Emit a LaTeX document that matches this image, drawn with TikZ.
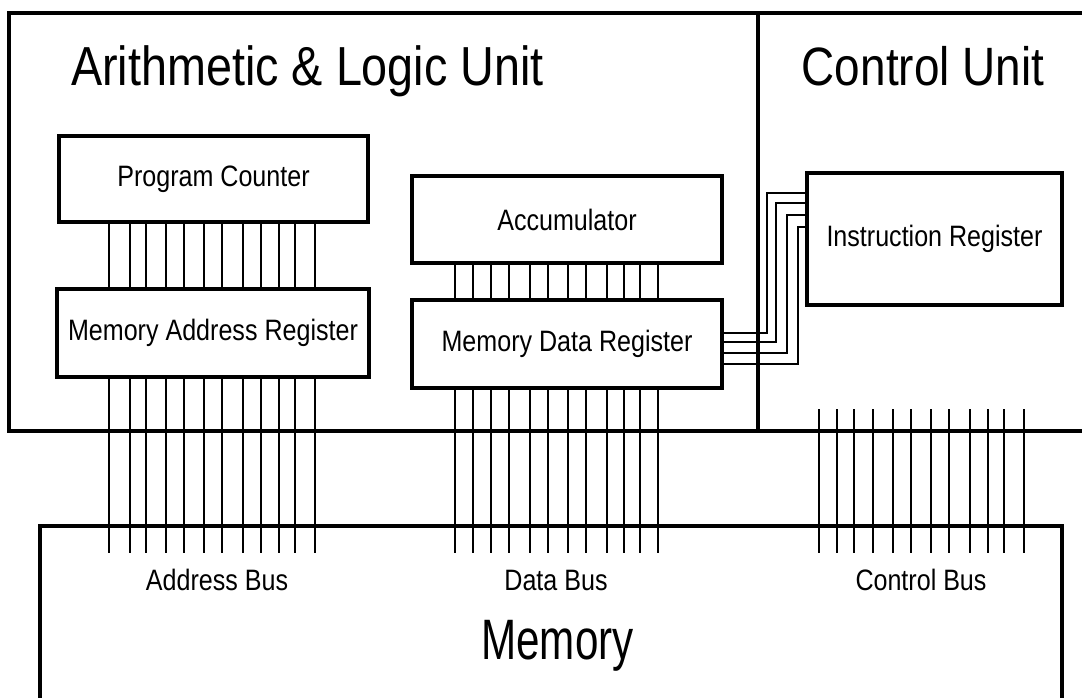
\documentclass[tikz,border=0pt]{standalone}
\usepackage{fontspec}
\setmainfont[FakeStretch=0.85]{Liberation Sans}
\newfontfamily\narrowfont[FakeStretch=0.74]{Liberation Sans}
\begin{document}
\begin{tikzpicture}[x=1pt,y=-1pt,
  frame/.style={line width=4pt},
  reg/.style={draw,line width=4pt,fill=white,inner sep=0pt,
    font=\fontsize{29.5}{35}\selectfont},
  bus/.style={line width=2pt},
  wire/.style={line width=2pt},
  big/.style={font=\fontsize{55}{66}\selectfont,anchor=base,inner sep=0pt},
  label/.style={font=\fontsize{29.5}{35}\selectfont,anchor=base,inner sep=0pt}]
\useasboundingbox (0,0) rectangle (1082,697);
\clip (0,0) rectangle (1082,697);

% CPU frame with the divider between ALU and control unit
\draw[frame] (1090,13) -- (9,13) -- (9,431) -- (1090,431);
\draw[frame] (758,13) -- (758,431);
% memory block
\draw[frame] (40,705) -- (40,526) -- (1062,526) -- (1062,705);

% registers
\node[reg,minimum width=309pt,minimum height=86pt] (pc)  at (213.5,179) {Program Counter};
\node[reg,minimum width=312pt,minimum height=88pt] (mar) at (213,333)   {Memory Address Register};
\node[reg,minimum width=310pt,minimum height=87pt] (acc) at (567,219.5) {Accumulator};
\node[reg,minimum width=310pt,minimum height=88pt] (mdr) at (567,344)   {Memory Data Register};
\node[reg,minimum width=255pt,minimum height=132pt] (ir) at (934.5,239) {Instruction Register};

% bus end points
\coordinate (busend) at (0,553);
\coordinate (ctltop) at (0,409);

% address bus
\foreach \x in {109,130,146,166,184,204,222,243,261,279,295,315} {
  \draw[bus] (\x,0 |- pc.south) -- (\x,0 |- mar.north);
  \draw[bus] (\x,0 |- mar.south) -- (\x,0 |- busend);
}
% data bus
\foreach \x in {455,473,491,509,530,548,568,586,607,624,640,658} {
  \draw[bus] (\x,0 |- acc.south) -- (\x,0 |- mdr.north);
  \draw[bus] (\x,0 |- mdr.south) -- (\x,0 |- busend);
}
% control bus
\foreach \x in {819,837,854,873,893,911,931,949,970,988,1004,1024} {
  \draw[bus] (\x,0 |- ctltop) -- (\x,0 |- busend);
}

% MDR to instruction register
\foreach \lo/\xx/\hi in {333/767/193, 342/776/203, 353/787/215, 364/798/227} {
  \draw[wire] (mdr.east |- 0,\lo) -- (\xx,\lo) -- (\xx,\hi) -- (ir.west |- 0,\hi);
}

% titles and labels
\node[big] (alu) at (307.5,85) {Arithmetic \& Logic Unit};
\node[big,font=\fontsize{54}{64}\selectfont] (cu) at (923,85) {Control Unit};
\node[label] (ab) at (217,590) {Address Bus};
\node[label] (db) at (556,590) {Data Bus};
\node[label] (cb) at (921,590) {Control Bus};
\node[big,font=\narrowfont\fontsize{57}{68}\selectfont] (mem) at (557.5,659) {Memory};
\end{tikzpicture}
\end{document}
